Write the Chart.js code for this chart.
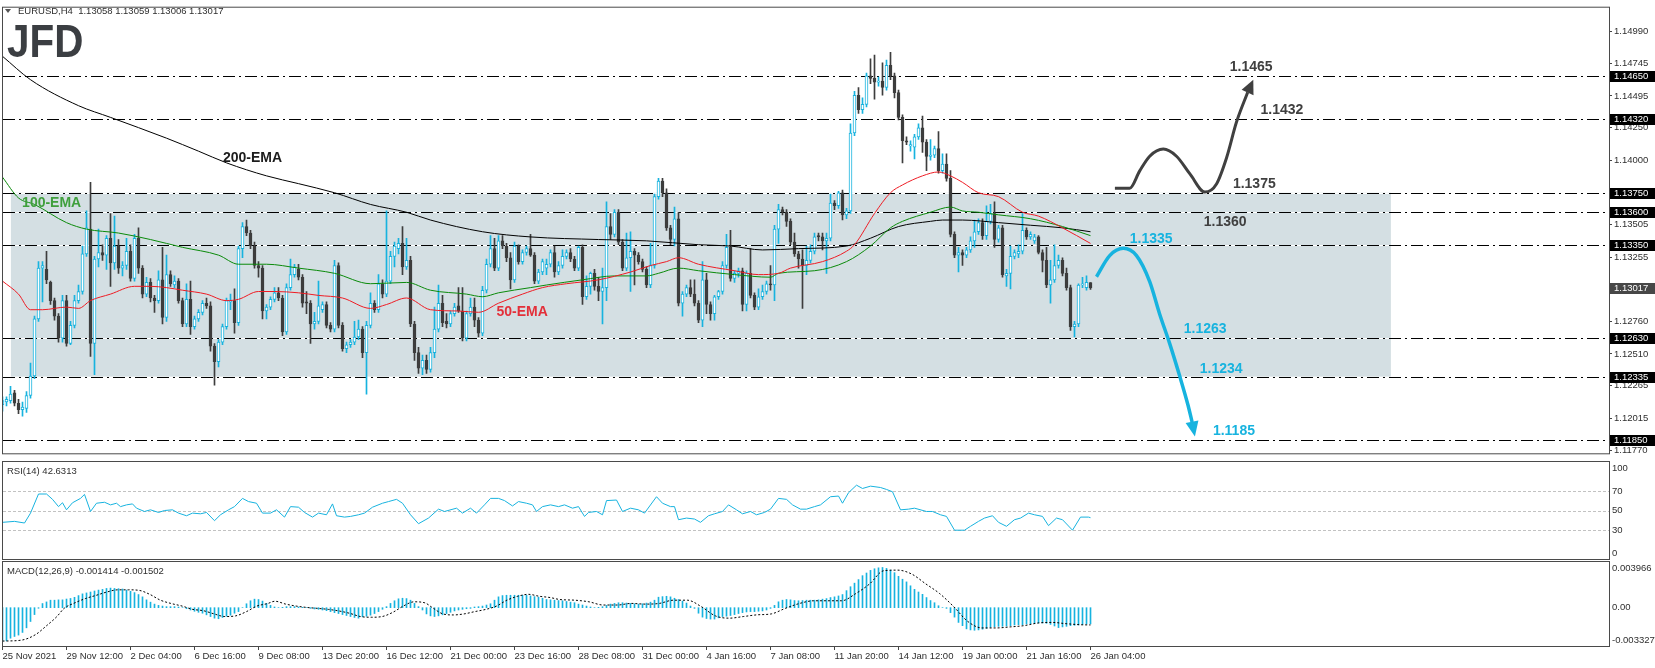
<!DOCTYPE html>
<html>
<head>
<meta charset="utf-8">
<title>EURUSD, H4</title>
<script src="https://cdn.jsdelivr.net/npm/chart.js@4.4.1/dist/chart.umd.min.js"></script>
<style>
  html, body { margin: 0; padding: 0; background: #fff; }
  #wrap { position: relative; width: 1655px; height: 668px; overflow: hidden; background: #fff; }
  #wrap canvas { position: absolute; left: 0; }
</style>
</head>
<body>
<div id="wrap">
  <canvas id="priceChart" width="1655" height="461" style="top:0"></canvas>
  <canvas id="rsiChart" width="1655" height="101" style="top:460px"></canvas>
  <canvas id="macdChart" width="1655" height="107" style="top:561px"></canvas>
</div>
<script>
// ---- candles, one per H4 bar (bar 0 = 25 Nov 2021, bar 272 = 26 Jan 04:00)
const opens = [
1.1212,1.1214,1.1215,1.1221,1.1213,1.1208,1.1209,1.1219,1.1234,1.1278,
1.1317,1.1316,1.1306,1.1292,1.1280,1.1263,1.1292,1.1259,1.1273,1.1292,
1.1299,1.1328,1.1347,1.1259,1.1324,1.1329,1.1327,1.1340,1.1321,1.1334,
1.1317,1.1319,1.1330,1.1309,1.1340,1.1317,1.1297,1.1306,1.1294,1.1292,
1.1308,1.1279,1.1312,1.1304,1.1307,1.1292,1.1274,1.1293,1.1272,1.1278,
1.1283,1.1290,1.1288,1.1257,1.1245,1.1260,1.1272,1.1291,1.1292,1.1275,
1.1332,1.1349,1.1344,1.1334,1.1319,1.1317,1.1284,1.1287,1.1293,1.1298,
1.1294,1.1268,1.1302,1.1312,1.1316,1.1310,1.1291,1.1290,1.1274,1.1276,
1.1285,1.1289,1.1273,1.1270,1.1319,1.1273,1.1255,1.1258,1.1260,1.1264,
1.1270,1.1252,1.1273,1.1290,1.1285,1.1305,1.1297,1.1307,1.1326,1.1332,
1.1336,1.1318,1.1323,1.1274,1.1252,1.1240,1.1246,1.1239,1.1252,1.1270,
1.1290,1.1276,1.1274,1.1282,1.1288,1.1284,1.1263,1.1282,1.1287,1.1277,
1.1267,1.1300,1.1320,1.1332,1.1317,1.1338,1.1334,1.1325,1.1308,1.1334,
1.1322,1.1329,1.1332,1.1327,1.1307,1.1314,1.1317,1.1320,1.1329,1.1314,
1.1319,1.1326,1.1329,1.1324,1.1317,1.1333,1.1295,1.1303,1.1313,1.1303,
1.1299,1.1302,1.1349,1.1343,1.1360,1.1337,1.1317,1.1325,1.1330,1.1327,
1.1322,1.1316,1.1304,1.1319,1.1372,1.1384,1.1375,1.1348,1.1339,1.1355,
1.1290,1.1297,1.1302,1.1297,1.1290,1.1277,1.1308,1.1289,1.1282,1.1295,
1.1299,1.1319,1.1333,1.1309,1.1313,1.1315,1.1289,1.1313,1.1296,1.1287,
1.1295,1.1299,1.1305,1.1304,1.1347,1.1362,1.1360,1.1353,1.1337,1.1328,
1.1324,1.1319,1.1323,1.1330,1.1342,1.1341,1.1338,1.1340,1.1367,1.1365,
1.1375,1.1358,1.1361,1.1421,1.1450,1.1439,1.1443,1.1465,1.1463,1.1460,
1.1461,1.1456,1.1473,1.1465,1.1452,1.1433,1.1415,1.1411,1.1410,1.1418,
1.1425,1.1414,1.1403,1.1404,1.1409,1.1392,1.1397,1.1386,1.1343,1.1327,
1.1329,1.1327,1.1331,1.1338,1.1345,1.1352,1.1342,1.1353,1.1359,1.1339,
1.1348,1.1311,1.1313,1.1326,1.1328,1.1330,1.1346,1.1341,1.1338,1.1341,
1.1329,1.1323,1.1304,1.1308,1.1319,1.1323,1.1313,1.1302,1.1272,1.1274,
1.1304,1.1302,1.13058];
const highs = [
1.1218,1.1218,1.1226,1.1223,1.1216,1.1214,1.1222,1.1244,1.1280,1.1322,
1.1322,1.1330,1.1307,1.1294,1.1282,1.1296,1.1296,1.1276,1.1296,1.1304,
1.1334,1.1361,1.1383,1.1326,1.1347,1.1335,1.1342,1.1359,1.1357,1.1339,
1.1322,1.1340,1.1335,1.1343,1.1348,1.1319,1.1310,1.1309,1.1296,1.1315,
1.1333,1.1327,1.1315,1.1311,1.1309,1.1294,1.1305,1.1307,1.1280,1.1285,
1.1292,1.1294,1.1291,1.1259,1.1262,1.1274,1.1294,1.1297,1.1301,1.1334,
1.1352,1.1354,1.1346,1.1337,1.1322,1.1319,1.1289,1.1295,1.1302,1.1302,
1.1296,1.1305,1.1324,1.1320,1.1320,1.1312,1.1299,1.1292,1.1283,1.1307,
1.1291,1.1291,1.1275,1.1323,1.1321,1.1275,1.1260,1.1262,1.1276,1.1277,
1.1272,1.1276,1.1298,1.1292,1.1312,1.1308,1.1361,1.1330,1.1337,1.1340,
1.1349,1.1340,1.1326,1.1276,1.1256,1.1250,1.1250,1.1256,1.1287,1.1304,
1.1296,1.1282,1.1284,1.1290,1.1302,1.1302,1.1284,1.1294,1.1294,1.1279,
1.1303,1.1324,1.1342,1.1340,1.1342,1.1342,1.1336,1.1329,1.1337,1.1335,
1.1331,1.1334,1.1343,1.1329,1.1316,1.1324,1.1324,1.1331,1.1334,1.1322,
1.1331,1.1331,1.1332,1.1326,1.1334,1.1335,1.1311,1.1314,1.1316,1.1310,
1.1317,1.1368,1.1359,1.1362,1.1362,1.1339,1.1344,1.1345,1.1332,1.1329,
1.1324,1.1318,1.1336,1.1374,1.1386,1.1386,1.1378,1.1350,1.1364,1.1360,
1.1299,1.1304,1.1308,1.1308,1.1292,1.1322,1.1313,1.1291,1.1296,1.1300,
1.1322,1.1343,1.1346,1.1315,1.1317,1.1317,1.1315,1.1332,1.1298,1.1301,
1.1304,1.1307,1.1319,1.1350,1.1366,1.1364,1.1362,1.1355,1.1344,1.1330,
1.1331,1.1334,1.1335,1.1344,1.1344,1.1344,1.1344,1.1374,1.1369,1.1376,
1.1377,1.1363,1.1428,1.1453,1.1456,1.1448,1.1467,1.1478,1.1481,1.1464,
1.1475,1.1477,1.1483,1.1467,1.1454,1.1435,1.1418,1.1415,1.1420,1.1428,
1.1434,1.1416,1.1416,1.1411,1.1422,1.1405,1.1405,1.1392,1.1345,1.1333,
1.1331,1.1333,1.1341,1.1354,1.1355,1.1355,1.1365,1.1366,1.1368,1.1350,
1.1350,1.1316,1.1334,1.1331,1.1335,1.1359,1.1348,1.1345,1.1343,1.1342,
1.1331,1.1333,1.1323,1.1335,1.1327,1.1325,1.1317,1.1304,1.1276,1.1305,
1.1310,1.1311,1.13059];
const lows = [
1.1207,1.1211,1.1213,1.1211,1.1205,1.1203,1.1206,1.1217,1.1232,1.1276,
1.1291,1.1305,1.1289,1.1277,1.1260,1.1260,1.1257,1.1258,1.1271,1.1290,
1.1297,1.1326,1.1249,1.1235,1.1318,1.1323,1.1316,1.1303,1.1316,1.1313,
1.1311,1.1316,1.1307,1.1307,1.1313,1.1294,1.1295,1.1291,1.1283,1.1290,
1.1274,1.1276,1.1303,1.1302,1.1290,1.1272,1.1272,1.1266,1.1270,1.1276,
1.1281,1.1286,1.1253,1.1227,1.1241,1.1258,1.1270,1.1285,1.1267,1.1273,
1.1325,1.1342,1.1332,1.1317,1.1310,1.1278,1.1278,1.1285,1.1291,1.1292,
1.1265,1.1266,1.1300,1.1310,1.1308,1.1287,1.1282,1.1259,1.1270,1.1274,
1.1283,1.1271,1.1268,1.1268,1.1271,1.1253,1.1252,1.1256,1.1258,1.1262,
1.1248,1.1220,1.1271,1.1283,1.1283,1.1294,1.1295,1.1305,1.1318,1.1328,
1.1312,1.1316,1.1272,1.1246,1.1236,1.1235,1.1236,1.1237,1.1248,1.1268,
1.1272,1.1271,1.1272,1.1280,1.1283,1.1261,1.1261,1.1280,1.1272,1.1264,
1.1265,1.1298,1.1318,1.1315,1.1315,1.1332,1.1322,1.1301,1.1306,1.1320,
1.1320,1.1327,1.1326,1.1305,1.1305,1.1312,1.1312,1.1318,1.1310,1.1312,
1.1317,1.1324,1.1322,1.1315,1.1315,1.1289,1.1293,1.1297,1.1300,1.1292,
1.1274,1.1292,1.1339,1.1341,1.1335,1.1315,1.1315,1.1299,1.1304,1.1320,
1.1314,1.1302,1.1302,1.1317,1.1370,1.1372,1.1346,1.1335,1.1334,1.1288,
1.1280,1.1295,1.1295,1.1288,1.1275,1.1272,1.1282,1.1277,1.1277,1.1293,
1.1297,1.1317,1.1307,1.1306,1.1310,1.1284,1.1284,1.1294,1.1285,1.1285,
1.1293,1.1297,1.1300,1.1292,1.1336,1.1358,1.1349,1.1335,1.1326,1.1317,
1.1286,1.1312,1.1321,1.1328,1.1338,1.1331,1.1313,1.1338,1.1362,1.1363,
1.1354,1.1355,1.1359,1.1419,1.1436,1.1436,1.1441,1.1459,1.1447,1.1457,
1.1450,1.1454,1.1462,1.1448,1.1431,1.1398,1.1412,1.1407,1.1401,1.1416,
1.1406,1.1392,1.1400,1.1402,1.1390,1.1390,1.1384,1.1341,1.1325,1.1314,
1.1319,1.1325,1.1329,1.1333,1.1343,1.1339,1.1339,1.1351,1.1333,1.1337,
1.1310,1.1303,1.1301,1.1324,1.1325,1.1328,1.1339,1.1339,1.1336,1.1328,
1.1314,1.1302,1.1290,1.1306,1.1317,1.1311,1.1300,1.1269,1.1264,1.1272,
1.1302,1.1300,1.13006];
const closes = [
1.1215,1.1216,1.1220,1.1213,1.1208,1.1210,1.1219,1.1234,1.1278,1.1317,
1.1319,1.1308,1.1292,1.1280,1.1263,1.1292,1.1259,1.1273,1.1292,1.1299,
1.1328,1.1348,1.1259,1.1324,1.1329,1.1327,1.1340,1.1321,1.1334,1.1317,
1.1319,1.1330,1.1309,1.1340,1.1317,1.1297,1.1306,1.1294,1.1292,1.1308,
1.1279,1.1312,1.1305,1.1307,1.1292,1.1274,1.1293,1.1272,1.1278,1.1283,
1.1290,1.1288,1.1257,1.1245,1.1260,1.1272,1.1292,1.1292,1.1275,1.1332,
1.1349,1.1344,1.1334,1.1319,1.1317,1.1284,1.1287,1.1293,1.1298,1.1294,
1.1268,1.1302,1.1312,1.1318,1.1310,1.1290,1.1290,1.1274,1.1276,1.1288,
1.1289,1.1273,1.1270,1.1319,1.1273,1.1255,1.1258,1.1260,1.1264,1.1270,
1.1252,1.1273,1.1290,1.1285,1.1305,1.1297,1.1307,1.1326,1.1334,1.1336,
1.1318,1.1323,1.1274,1.1252,1.1240,1.1246,1.1239,1.1252,1.1270,1.1290,
1.1275,1.1274,1.1282,1.1287,1.1284,1.1263,1.1282,1.1287,1.1277,1.1267,
1.1300,1.1320,1.1332,1.1317,1.1338,1.1334,1.1325,1.1308,1.1334,1.1322,
1.1329,1.1332,1.1327,1.1307,1.1314,1.1322,1.1320,1.1329,1.1314,1.1319,
1.1326,1.1329,1.1324,1.1317,1.1333,1.1295,1.1303,1.1313,1.1303,1.1299,
1.1302,1.1349,1.1343,1.1360,1.1337,1.1317,1.1325,1.1330,1.1327,1.1322,
1.1316,1.1304,1.1319,1.1372,1.1384,1.1375,1.1348,1.1339,1.1355,1.1290,
1.1297,1.1302,1.1297,1.1290,1.1277,1.1308,1.1289,1.1282,1.1295,1.1299,
1.1319,1.1333,1.1309,1.1313,1.1315,1.1289,1.1313,1.1296,1.1287,1.1295,
1.1299,1.1305,1.1304,1.1347,1.1362,1.1360,1.1353,1.1337,1.1328,1.1324,
1.1319,1.1323,1.1330,1.1341,1.1341,1.1338,1.1340,1.1367,1.1365,1.1375,
1.1358,1.1361,1.1421,1.1450,1.1439,1.1443,1.1465,1.1463,1.1460,1.1461,
1.1456,1.1473,1.1465,1.1452,1.1433,1.1415,1.1414,1.1412,1.1418,1.1425,
1.1414,1.1403,1.1404,1.1409,1.1392,1.1397,1.1386,1.1343,1.1327,1.1329,
1.1327,1.1331,1.1338,1.1345,1.1352,1.1342,1.1353,1.1359,1.1339,1.1348,
1.1312,1.1313,1.1326,1.1329,1.1330,1.1346,1.1341,1.1343,1.1341,1.1329,
1.1323,1.1304,1.1308,1.1319,1.1323,1.1313,1.1302,1.1272,1.1274,1.1304,
1.1305,1.1306,1.13017];

// ---- moving averages at their turning points
const ema50Bars = [0,4,7,10,16,19,22,27,33,37,41,45,51,56,59,64,68,74,79,85,92,96,101,107,114,119,124,130,135,141,149,157,162,166,169,174,183,189,194,197,205,211,213,218,222,225,230,234,237,240,244,249,255,259,265,272];
const ema50Vals = [1.1307,1.1297,1.1285,1.1285,1.1287,1.1286,1.1292,1.1297,1.1303,1.1303,1.1302,1.1300,1.1297,1.1292,1.1293,1.1299,1.1299,1.1298,1.1296,1.1294,1.1286,1.1289,1.1294,1.1285,1.1284,1.1283,1.1290,1.1297,1.1302,1.1305,1.1308,1.1314,1.1319,1.1322,1.1325,1.1320,1.1315,1.1312,1.1313,1.1317,1.1322,1.1330,1.1335,1.1359,1.1375,1.1381,1.1388,1.1391,1.1388,1.1383,1.1375,1.1372,1.1360,1.1357,1.1348,1.1336];
const ema100Bars = [0,4,8,16,21,29,37,45,54,59,66,74,83,92,101,107,116,120,124,132,136,145,153,161,164,169,174,183,192,194,203,211,217,222,225,232,237,240,244,249,257,265,272];
const ema100Vals = [1.1387,1.1371,1.1366,1.1352,1.1347,1.1344,1.1339,1.1333,1.1327,1.1320,1.1320,1.1317,1.1313,1.1305,1.1306,1.1300,1.1297,1.1295,1.1298,1.1302,1.1304,1.1308,1.1311,1.1311,1.1313,1.1317,1.1315,1.1312,1.1310,1.1313,1.1315,1.1322,1.1334,1.1348,1.1353,1.1360,1.1364,1.1361,1.1360,1.1358,1.1355,1.1349,1.1342];
const ema200Bars = [0,7,19,27,41,49,56,66,74,83,92,101,107,120,132,149,161,174,182,190,199,211,217,224,232,235,240,249,257,265,272];
const ema200Vals = [1.1480,1.1462,1.1442,1.1433,1.1417,1.1407,1.1398,1.1388,1.1382,1.1375,1.1366,1.1360,1.1354,1.1345,1.1341,1.1339,1.1338,1.1335,1.1334,1.1331,1.1332,1.1334,1.1340,1.1349,1.1353,1.1354,1.1354,1.1352,1.1350,1.1348,1.1345];

// ---- RSI(14)
const rsiBars = [0,3,5.5,7,9,11,12.5,14,15,16,17.5,19.5,20.5,22,23.5,25.5,27,28.5,29.5,31,32.5,33.5,35.5,37,39,40.5,42.5,44,46,47.5,49.5,51,53,54.5,56.5,58,60,61.5,63.5,65,67,68.5,70.5,72,74,75.5,77.5,79,81,82.5,83.5,85.5,87,89,90.5,92.5,95,96.5,98.5,100,102,104,106.5,109,110.5,113.5,115,117,118.5,120.5,122,124,125.5,127.5,129,131,132.5,133.5,135,137,139,140.5,142.5,144,145.5,146.5,148.5,150,151,153.5,155,157,159,160.5,163.5,165,167,168,169,171,173,174.5,176.5,178,180,181.5,183.5,185,187,188.5,190.5,192,194,196,197.5,199.5,201,203,204.5,207,209,210,211.5,213.5,215,217,219.5,221,222.5,224.5,226.5,228,231,232.5,234.5,236,238,240.5,242,244,245.5,247.5,249,251,253,254.5,256.5,258,260,261.5,263.5,265,267.5,269.5,271.5,272];
const rsiVals = [37.8,38.8,37.1,47.3,67,67,61.5,54,58,50.7,58,62.5,66.6,49,57.5,58.5,55.8,57.5,54,55.8,56.8,52.4,49,50.7,48,50,50.7,47.3,44.6,47.3,46.6,48,39.5,45.6,50.7,54,62.5,59.2,57.5,47.3,47.3,50.7,43.2,54,53.4,48,43.2,47.3,45.6,56.8,44.6,43.2,43.9,45.6,47.3,53.4,57.5,59.2,61.5,57.5,45.6,36.4,42.2,51.4,49,52.4,47.3,52.4,47.3,55.8,62.5,62.5,60.2,54.7,59.2,57.5,55.8,49,54,55.8,54,55.8,52.4,54,43.9,48,49,45.6,60.2,60.8,49,52.4,50.7,47.3,64.2,57.5,54,54,40.5,42.2,41.2,37.8,44.6,46.6,49,55.8,50.7,46.6,49,45.6,48,51.4,62.5,61.5,55.8,51.4,51.4,54,55.8,64.2,64.9,57.5,68.3,76.1,72.7,75.1,73.7,71.7,69.3,50.7,51.4,52.4,49,49,45.6,43.9,29.7,29.7,33.7,38.8,42.2,44.6,37.8,33.7,40.5,42.2,47.3,45.6,43.9,34.4,42.2,40.5,29.7,43.2,43.2,42.6];
const rsiLevels = [30, 50, 70];
const rsiAxisLabels = [100, 70, 50, 30, 0];

// ---- MACD(12,26,9): histogram per bar, dotted signal
const macdHist = [
-0.00290,-0.00288,-0.00265,-0.00250,-0.00238,-0.00215,-0.00175,-0.00120,-0.00060,-0.00005,
0.00036,0.00050,0.00065,0.00065,0.00068,0.00068,0.00075,0.00080,0.00090,0.00105,
0.00120,0.00128,0.00136,0.00145,0.00153,0.00159,0.00167,0.00170,0.00167,0.00165,
0.00162,0.00153,0.00142,0.00131,0.00114,0.00094,0.00068,0.00048,0.00031,0.00020,
0.00014,0.00009,0.00009,0.00009,0.00006,0.00000,-0.00009,-0.00020,-0.00031,-0.00040,
-0.00048,-0.00062,-0.00077,-0.00091,-0.00096,-0.00085,-0.00074,-0.00065,-0.00048,-0.00034,
0.00000,0.00034,0.00060,0.00074,0.00071,0.00057,0.00037,0.00020,0.00006,0.00000,
0.00003,0.00009,0.00009,0.00009,0.00006,0.00003,0.00000,-0.00006,-0.00011,-0.00014,
-0.00020,-0.00026,-0.00034,-0.00043,-0.00051,-0.00060,-0.00068,-0.00077,-0.00085,-0.00091,
-0.00079,-0.00074,-0.00065,-0.00051,-0.00034,-0.00014,0.00009,0.00037,0.00060,0.00077,
0.00082,0.00079,0.00065,0.00037,0.00009,-0.00020,-0.00054,-0.00071,-0.00077,-0.00071,
-0.00062,-0.00051,-0.00040,-0.00028,-0.00020,-0.00014,-0.00009,-0.00006,0.00006,0.00009,
0.00014,0.00023,0.00034,0.00065,0.00094,0.00105,0.00108,0.00108,0.00108,0.00108,
0.00108,0.00108,0.00102,0.00096,0.00091,0.00082,0.00071,0.00068,0.00065,0.00062,
0.00060,0.00054,0.00048,0.00043,0.00031,0.00023,0.00014,0.00006,0.00000,0.00003,
0.00009,0.00020,0.00031,0.00037,0.00043,0.00043,0.00040,0.00037,0.00034,0.00031,
0.00034,0.00040,0.00048,0.00065,0.00091,0.00096,0.00099,0.00094,0.00082,0.00071,
0.00057,0.00040,0.00014,-0.00006,-0.00048,-0.00082,-0.00094,-0.00099,-0.00099,-0.00088,
-0.00077,-0.00074,-0.00068,-0.00060,-0.00051,-0.00043,-0.00037,-0.00034,-0.00034,-0.00031,
-0.00028,-0.00020,-0.00006,0.00020,0.00051,0.00065,0.00071,0.00068,0.00062,0.00060,
0.00062,0.00065,0.00065,0.00065,0.00068,0.00074,0.00079,0.00088,0.00094,0.00102,
0.00114,0.00148,0.00182,0.00213,0.00244,0.00278,0.00301,0.00324,0.00338,0.00346,
0.00349,0.00341,0.00326,0.00304,0.00272,0.00247,0.00224,0.00190,0.00159,0.00136,
0.00116,0.00088,0.00062,0.00043,0.00017,0.00000,-0.00006,-0.00043,-0.00082,-0.00128,
-0.00156,-0.00184,-0.00193,-0.00196,-0.00193,-0.00187,-0.00179,-0.00170,-0.00165,-0.00162,
-0.00162,-0.00159,-0.00156,-0.00150,-0.00148,-0.00148,-0.00142,-0.00139,-0.00136,-0.00133,
-0.00133,-0.00136,-0.00145,-0.00159,-0.00173,-0.00167,-0.00162,-0.00156,-0.00153,-0.00150,
-0.00145,-0.00142,-0.00141];
const sigBars = [0,4.7,8.3,10.9,13.6,15.4,18.1,20.8,23.4,26.1,28.8,31.5,34.2,36.8,39.5,42.2,44.9,47.6,50.2,52.9,55.6,58.3,61,63.6,66.3,68.1,70.8,73.4,76.1,78.8,81.5,84.2,86.8,89.5,92.2,94.9,97.6,100.2,102.9,105.6,107.4,110.1,112.7,115.4,118.1,120.8,123.5,126.1,128.8,131.5,134.2,136.9,139.3,143.1,146.6,150.2,153.7,157.2,160.7,164.2,167.7,171.2,174.7,178.2,181.7,185.2,188.7,192.2,195.7,199.3,202.8,206.3,209.8,213.3,216.8,220.3,223.8,227.3,230.8,234.3,237.8,241.3,244.9,248.4,251.9,255.4,258.9,262.4,265.9,269.4,272];
const sigVals = [-0.0029,-0.00282,-0.00233,-0.0016,-0.00077,-0.00006,0.00042,0.0008,0.00107,0.00136,0.00155,0.00155,0.0015,0.00116,0.00065,0.00036,0.00014,-0.00015,-0.00026,-0.00054,-0.00077,-0.00071,-0.00034,0.00014,0.00036,0.00056,0.00031,0.00014,0.00002,-0.00006,-0.00015,-0.00029,-0.00049,-0.00077,-0.00083,-0.00077,-0.0004,0.00014,0.00051,0.00042,0.00002,-0.00054,-0.00063,-0.00054,-0.00034,-0.00015,0.00014,0.00065,0.00099,0.00116,0.00099,0.00088,0.00071,0.00065,0.00051,0.00023,0.00023,0.00037,0.00031,0.00037,0.00065,0.00065,0.00009,-0.00071,-0.00091,-0.00077,-0.00062,-0.00054,-0.00006,0.00037,0.0006,0.0006,0.0006,0.00122,0.00207,0.00321,0.00326,0.00292,0.00207,0.00122,0.00009,-0.00119,-0.00176,-0.00176,-0.00167,-0.00156,-0.00133,-0.00128,-0.00139,-0.00148,-0.0015];
const MACD_MAX = 0.003966, MACD_MIN = -0.003327;

// ---- axis ticks and time labels
const priceTicks = [1.1499, 1.14745, 1.14495, 1.1425, 1.14, 1.13505, 1.13255, 1.1276, 1.1251, 1.12265, 1.12015, 1.1177];
const dateBars = [0,16,32,48,64,80,96,112,128,144,160,176,192,208,224,240,256,272];
const dateLabels = ['25 Nov 2021','29 Nov 12:00','2 Dec 04:00','6 Dec 16:00','9 Dec 08:00','13 Dec 20:00','16 Dec 12:00','21 Dec 00:00','23 Dec 16:00','28 Dec 08:00','31 Dec 00:00','4 Jan 16:00','7 Jan 08:00','11 Jan 20:00','14 Jan 12:00','19 Jan 00:00','21 Jan 16:00','26 Jan 04:00'];

// ---- drawn objects: levels, range box, scenario arrows, notes
const levelValues = [1.1465, 1.1432, 1.1375, 1.1360, 1.1335, 1.1263, 1.12335, 1.1185];
const rangeBars = [2.1, 347.1];
const rangeTop = 1.1375, rangeBottom = 1.12335;
const upPathBars = [278.1,281.8,284.3,286.8,290.2,293.5,296.9,300.6,303.5,306,308.5,311.3];
const upPathPrices = [1.13785,1.13785,1.13918,1.14031,1.14086,1.14031,1.13893,1.13755,1.13818,1.14018,1.14294,1.14524];
const upTip = [312.7, 1.1462];
const downPathBars = [273.5,276.8,280.2,283.5,286.8,289.3,291.8,294.3,296.4,297.4];
const downPathPrices = [1.13104,1.13266,1.13322,1.13266,1.13066,1.12815,1.12589,1.12339,1.12113,1.11985];
const downTip = [298.1, 1.11875];
const noteTexts = ['1.1465','1.1432','1.1375','1.1360','1.1335','1.1263','1.1234','1.1185'];
const noteBars = [306.8,314.5,307.6,300.3,281.8,295.3,299.3,302.6];
const notePrices = [1.14715,1.14385,1.1382,1.13527,1.13392,1.12702,1.12394,1.11918];
const emaTags = ['200-EMA','100-EMA','50-EMA'];
const emaTagBars = [55.1, 4.9, 123.5];
const emaTagPrices = [1.14016, 1.13668, 1.12835];

const X_MIN = 0.125, X_MAX = 401.625;
const PRICE_MIN = 1.11745, PRICE_MAX = 1.15174;
const AXIS_W = 46;

const CYAN = '#17b3df';
const DARK = '#3d3d3d';
const GREY_NOTE = '#404040';
const FRAME = '#4a4a4a';
const FONT = '"Liberation Sans", Arial, sans-serif';

Chart.defaults.font.family = FONT;
Chart.defaults.font.size = 9.5;
Chart.defaults.color = '#2e2e2e';
Chart.defaults.animation = false;

const pts = (xs, ys) => xs.map((x, k) => ({x, y: ys[k]}));
const barIdx = opens.map((_, i) => i);
const isUp = i => closes[i] >= opens[i];

function drawFrame(chart) {
    const {ctx, chartArea: a} = chart;
    ctx.save();
    ctx.strokeStyle = FRAME;
    ctx.lineWidth = 1;
    ctx.setLineDash([]);
    ctx.strokeRect(a.left - 0.5, a.top - 0.5, a.right - a.left + 1, a.bottom - a.top + 1);
    ctx.restore();
}

function arrowHead(ctx, x, y, fromBar, fromPrice, tip, color, len, wid) {
    const fx = x.getPixelForValue(fromBar), fy = y.getPixelForValue(fromPrice);
    const tx = x.getPixelForValue(tip[0]), ty = y.getPixelForValue(tip[1]);
    const ang = Math.atan2(ty - fy, tx - fx);
    const c = Math.cos(ang), s = Math.sin(ang);
    const bx = tx - len * c, by = ty - len * s;
    ctx.fillStyle = color;
    ctx.beginPath();
    ctx.moveTo(tx, ty);
    ctx.lineTo(bx + wid / 2 * s, by - wid / 2 * c);
    ctx.lineTo(bx - wid / 2 * s, by + wid / 2 * c);
    ctx.closePath();
    ctx.fill();
}

const priceDecor = {
    id: 'priceDecor',
    beforeDatasetsDraw(chart) {
        const {ctx, chartArea: a, scales: {x, y}} = chart;
        ctx.save();
        ctx.beginPath();
        ctx.rect(a.left, a.top, a.right - a.left, a.bottom - a.top);
        ctx.clip();
        const x1 = x.getPixelForValue(rangeBars[0]), x2 = x.getPixelForValue(rangeBars[1]);
        const y1 = y.getPixelForValue(rangeTop), y2 = y.getPixelForValue(rangeBottom);
        ctx.fillStyle = '#d4dfe3';
        ctx.fillRect(x1, y1, x2 - x1, y2 - y1);
        ctx.lineWidth = 1;
        levelValues.forEach(v => {
            const py = Math.round(y.getPixelForValue(v)) + 0.5;
            ctx.setLineDash([]);
            ctx.strokeStyle = '#ffffff';
            ctx.beginPath(); ctx.moveTo(a.left, py); ctx.lineTo(a.right, py); ctx.stroke();
            ctx.setLineDash([12, 4, 2, 4]);
            ctx.strokeStyle = '#000000';
            ctx.beginPath(); ctx.moveTo(a.left, py); ctx.lineTo(a.right, py); ctx.stroke();
        });
        ctx.restore();
    },
    afterDraw(chart) {
        const {ctx, chartArea: a, scales: {x, y}} = chart;
        ctx.save();
        arrowHead(ctx, x, y, upPathBars[upPathBars.length - 1], upPathPrices[upPathPrices.length - 1], upTip, GREY_NOTE, 14, 13);
        arrowHead(ctx, x, y, downPathBars[downPathBars.length - 1], downPathPrices[downPathPrices.length - 1], downTip, CYAN, 15, 13);

        ctx.font = 'bold 14px ' + FONT;
        ctx.textBaseline = 'middle';
        ctx.textAlign = 'left';
        noteTexts.forEach((t, k) => {
            ctx.fillStyle = k < 4 ? GREY_NOTE : CYAN;
            ctx.fillText(t, x.getPixelForValue(noteBars[k]), y.getPixelForValue(notePrices[k]));
        });
        const tagColors = ['#1c1c1c', '#3f9f3c', '#e3303a'];
        emaTags.forEach((t, k) => {
            ctx.fillStyle = tagColors[k];
            ctx.fillText(t, x.getPixelForValue(emaTagBars[k]), y.getPixelForValue(emaTagPrices[k]));
        });

        drawFrame(chart);

        // price labels on the axis
        ctx.font = '9.5px ' + FONT;
        const tag = (v, bg) => {
            const py = Math.round(y.getPixelForValue(v));
            ctx.fillStyle = bg;
            ctx.fillRect(a.right + 1, py - 5, AXIS_W - 1, 11);
            ctx.fillStyle = '#ffffff';
            ctx.fillText(v.toFixed(5), a.right + 5, py + 0.5);
        };
        levelValues.forEach(v => tag(v, '#000000'));
        tag(closes[closes.length - 1], '#474747');

        // header
        const n = opens.length - 1;
        ctx.fillStyle = '#555';
        ctx.beginPath(); ctx.moveTo(5, 9); ctx.lineTo(11, 9); ctx.lineTo(8, 13); ctx.closePath(); ctx.fill();
        ctx.fillStyle = '#2e2e2e';
        ctx.fillText('EURUSD,H4  ' + [opens[n], highs[n], lows[n], closes[n]].map(v => v.toFixed(5)).join(' '), 18, 11);

        // logo
        ctx.save();
        ctx.translate(7, 57);
        ctx.scale(0.86, 1);
        ctx.font = 'bold 47px ' + FONT;
        ctx.textBaseline = 'alphabetic';
        ctx.fillStyle = '#3b3e42';
        ctx.fillText('JFD', 0, 0);
        ctx.restore();
        ctx.restore();
    }
};

new Chart(document.getElementById('priceChart'), {
    type: 'bar',
    data: {
        datasets: [
            {type: 'line', data: pts(ema50Bars, ema50Vals), borderColor: '#ee1c24', borderWidth: 1, pointRadius: 0, cubicInterpolationMode: 'monotone', order: 0},
            {type: 'line', data: pts(ema100Bars, ema100Vals), borderColor: '#0a8a0a', borderWidth: 1, pointRadius: 0, cubicInterpolationMode: 'monotone', order: 0},
            {type: 'line', data: pts(ema200Bars, ema200Vals), borderColor: '#000000', borderWidth: 1, pointRadius: 0, cubicInterpolationMode: 'monotone', order: 0},
            {type: 'line', data: pts(upPathBars, upPathPrices), borderColor: GREY_NOTE, borderWidth: 3, pointRadius: 0, cubicInterpolationMode: 'monotone', order: -1},
            {type: 'line', data: pts(downPathBars, downPathPrices), borderColor: CYAN, borderWidth: 3.5, pointRadius: 0, cubicInterpolationMode: 'monotone', order: -1},
            {
                type: 'bar',
                data: barIdx.map(i => ({x: i, y: [opens[i], closes[i]]})),
                backgroundColor: barIdx.map(i => isUp(i) ? '#ffffff' : DARK),
                borderColor: barIdx.map(i => isUp(i) ? CYAN : DARK),
                borderWidth: 1,
                borderSkipped: false,
                barThickness: 3,
                minBarLength: 1,
                grouped: false,
                order: 2
            },
            {
                type: 'bar',
                data: barIdx.map(i => ({x: i, y: [lows[i], highs[i]]})),
                backgroundColor: barIdx.map(i => isUp(i) ? CYAN : DARK),
                borderWidth: 0,
                barThickness: 1,
                grouped: false,
                order: 3
            }
        ]
    },
    options: {
        responsive: false,
        devicePixelRatio: 1,
        events: [],
        layout: {padding: {left: 3, top: 3, bottom: 2, right: 0}},
        plugins: {legend: {display: false}, tooltip: {enabled: false}},
        scales: {
            x: {type: 'linear', min: X_MIN, max: X_MAX, offset: false, display: false},
            y: {
                position: 'right',
                min: PRICE_MIN,
                max: PRICE_MAX,
                afterFit: s => { s.width = AXIS_W; },
                afterBuildTicks: s => { s.ticks = priceTicks.map(v => ({value: v})); },
                ticks: {autoSkip: false, padding: 2, color: '#2e2e2e', callback: v => Number(v).toFixed(5)},
                grid: {drawOnChartArea: false, drawTicks: true, tickLength: 3, color: '#444'},
                border: {display: false}
            }
        }
    },
    plugins: [priceDecor]
});

const rsiDecor = {
    id: 'rsiDecor',
    beforeDatasetsDraw(chart) {
        const {ctx, chartArea: a, scales: {y}} = chart;
        ctx.save();
        ctx.strokeStyle = '#c2c2c2';
        ctx.lineWidth = 1;
        ctx.setLineDash([3, 2]);
        rsiLevels.forEach(v => {
            const py = Math.round(y.getPixelForValue(v)) + 0.5;
            ctx.beginPath(); ctx.moveTo(a.left, py); ctx.lineTo(a.right, py); ctx.stroke();
        });
        ctx.restore();
    },
    afterDraw(chart) {
        const {ctx, chartArea: a, scales: {y}} = chart;
        drawFrame(chart);
        ctx.save();
        ctx.font = '9.5px ' + FONT;
        ctx.fillStyle = '#2e2e2e';
        ctx.textBaseline = 'middle';
        ctx.textAlign = 'left';
        ctx.fillText('RSI(14) 42.6313', 7, 11);
        rsiAxisLabels.forEach(v => {
            let py = y.getPixelForValue(v);
            if (v === 100) py += 6;
            if (v === 0) py -= 6;
            ctx.fillText(String(v), a.right + 3, py);
        });
        ctx.restore();
    }
};

new Chart(document.getElementById('rsiChart'), {
    type: 'line',
    data: {
        datasets: [{data: pts(rsiBars, rsiVals), borderColor: CYAN, borderWidth: 1, pointRadius: 0, tension: 0}]
    },
    options: {
        responsive: false,
        devicePixelRatio: 1,
        events: [],
        layout: {padding: {left: 3, top: 2, bottom: 2, right: 0}},
        plugins: {legend: {display: false}, tooltip: {enabled: false}},
        scales: {
            x: {type: 'linear', min: X_MIN, max: X_MAX, offset: false, display: false},
            y: {
                position: 'right', min: 0, max: 100,
                afterFit: s => { s.width = AXIS_W; },
                ticks: {display: false},
                grid: {display: false},
                border: {display: false}
            }
        }
    },
    plugins: [rsiDecor]
});

const macdDecor = {
    id: 'macdDecor',
    afterDraw(chart) {
        const {ctx, chartArea: a, scales: {y}} = chart;
        drawFrame(chart);
        ctx.save();
        ctx.font = '9.5px ' + FONT;
        ctx.fillStyle = '#2e2e2e';
        ctx.textBaseline = 'middle';
        ctx.textAlign = 'left';
        ctx.fillText('MACD(12,26,9) -0.001414 -0.001502', 7, 10);
        ctx.fillText(MACD_MAX.toFixed(6), a.right + 3, y.getPixelForValue(MACD_MAX) + 6);
        ctx.fillText('0.00', a.right + 3, y.getPixelForValue(0));
        ctx.fillText(MACD_MIN.toFixed(6), a.right + 3, y.getPixelForValue(MACD_MIN) - 6);
        ctx.restore();
    }
};

new Chart(document.getElementById('macdChart'), {
    type: 'bar',
    data: {
        datasets: [
            {type: 'line', data: pts(sigBars, sigVals), borderColor: '#000000', borderWidth: 1, borderDash: [2, 2], pointRadius: 0, cubicInterpolationMode: 'monotone', order: 0},
            {type: 'bar', data: barIdx.map(i => ({x: i, y: macdHist[i]})), backgroundColor: CYAN, borderWidth: 0, barThickness: 1, grouped: false, order: 1}
        ]
    },
    options: {
        responsive: false,
        devicePixelRatio: 1,
        events: [],
        layout: {padding: {left: 3, top: 1, bottom: 0, right: 0}},
        plugins: {legend: {display: false}, tooltip: {enabled: false}},
        scales: {
            x: {
                type: 'linear', min: X_MIN, max: X_MAX, offset: false, position: 'bottom',
                afterFit: s => { s.height = 22; },
                afterBuildTicks: s => { s.ticks = dateBars.map(v => ({value: v})); },
                ticks: {autoSkip: false, maxRotation: 0, align: 'start', padding: 1, color: '#2e2e2e',
                        callback: v => dateLabels[dateBars.indexOf(v)]},
                grid: {drawOnChartArea: false, offset: false, drawTicks: true, tickLength: 4, color: '#444'},
                border: {display: false}
            },
            y: {
                position: 'right', min: MACD_MIN, max: MACD_MAX,
                afterFit: s => { s.width = AXIS_W; },
                ticks: {display: false},
                grid: {display: false},
                border: {display: false}
            }
        }
    },
    plugins: [macdDecor]
});
</script>
</body>
</html>
